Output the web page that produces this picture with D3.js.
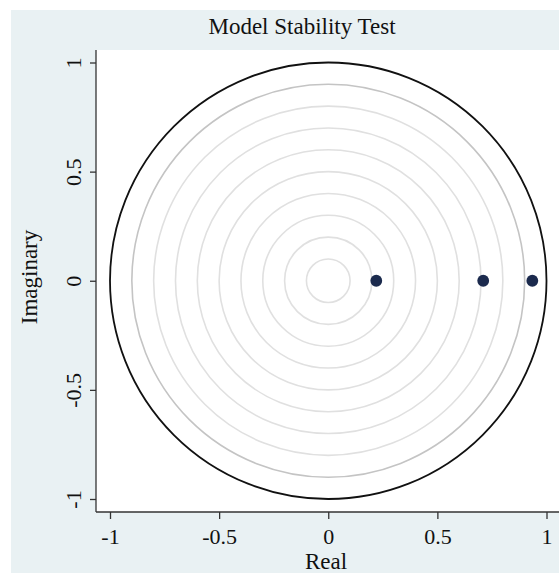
<!DOCTYPE html>
<html><head><meta charset="utf-8">
<script src="https://cdn.jsdelivr.net/npm/d3@7"></script>
<style>body{margin:0;background:#fff}svg{display:block}</style>
</head><body>
<svg id="c" width="559" height="573"></svg>
<script>
const title = "Model Stability Test";
const xLabel = "Real";
const yLabel = "Imaginary";
const rootsReal = [0.22, 0.71, 0.935];
const rootsImag = [0, 0, 0];
const gridRadii = [0.1, 0.2, 0.3, 0.4, 0.5, 0.6, 0.7, 0.8, 0.9];
const unitRadius = [1];
const tickValues = [-1, -0.5, 0, 0.5, 1];
const tickLabels = ["-1", "-0.5", "0", "0.5", "1"];

const svg = d3.select("#c");
const font = "'Liberation Serif','Times New Roman',serif";
// background
svg.append("rect").attr("x", 11).attr("y", 10).attr("width", 548).attr("height", 563).attr("fill", "#e9f1f3");
// plot area
const L = 96, T = 50, R = 559, B = 512;
svg.append("rect").attr("x", L).attr("y", T).attr("width", R - L).attr("height", B - T).attr("fill", "#fff");

const x = d3.scaleLinear().domain([-1, 1]).range([110, 546.5]);
const y = d3.scaleLinear().domain([-1, 1]).range([499, 62.5]);
const k = x(1) - x(0);

const g = svg.append("g");
g.selectAll("circle.grid").data(gridRadii).join("circle")
  .attr("class", "grid")
  .attr("cx", x(0)).attr("cy", y(0)).attr("r", d => d * k)
  .attr("fill", "none")
  .attr("stroke", d => d === 0.9 ? "#c4c4c4" : "#e0e0e0")
  .attr("stroke-width", 1.6);
g.selectAll("circle.unit").data(unitRadius).join("circle")
  .attr("class", "unit")
  .attr("cx", x(0)).attr("cy", y(0)).attr("r", d => d * k)
  .attr("fill", "none").attr("stroke", "#111").attr("stroke-width", 1.8);

g.selectAll("circle.pt").data(rootsReal).join("circle")
  .attr("class", "pt")
  .attr("cx", d => x(d)).attr("cy", (d, i) => y(rootsImag[i])).attr("r", 5.9)
  .attr("fill", "#1b2a4d");

// axes
const xAxis = d3.axisBottom(x).tickValues(tickValues).tickFormat((d, i) => tickLabels[i]).tickSize(7).tickSizeOuter(0);
const yAxis = d3.axisLeft(y).tickValues(tickValues).tickFormat((d, i) => tickLabels[i]).tickSize(6).tickSizeOuter(0);
const xa = svg.append("g").attr("transform", `translate(0,${B})`).call(xAxis);
xa.select(".domain").remove();
svg.append("line").attr("x1", L).attr("x2", R).attr("y1", B).attr("y2", B).attr("stroke", "#333").attr("stroke-width", 1.3);
xa.selectAll(".tick line").attr("stroke", "#333").attr("stroke-width", 1.3);
xa.selectAll(".tick text").attr("font-family", font).attr("font-size", 22).attr("fill", "#111")
  .attr("dy", null).attr("y", 32);

const ya = svg.append("g").attr("transform", `translate(${L},0)`).call(yAxis);
ya.select(".domain").remove();
svg.append("line").attr("x1", L).attr("x2", L).attr("y1", T).attr("y2", B).attr("stroke", "#333").attr("stroke-width", 1.3);
ya.selectAll(".tick line").attr("stroke", "#333").attr("stroke-width", 1.3);
ya.selectAll(".tick text")
  .attr("font-family", font).attr("font-size", 22).attr("fill", "#111")
  .attr("x", null).attr("dy", null)
  .attr("text-anchor", "middle")
  .attr("transform", "translate(-15,0) rotate(-90)")
  .attr("y", 0);

svg.append("text").attr("x", 302).attr("y", 34).attr("text-anchor", "middle")
  .attr("font-family", font).attr("font-size", 23).attr("fill", "#111").text(title);
svg.append("text").attr("x", 326).attr("y", 569).attr("text-anchor", "middle")
  .attr("font-family", font).attr("font-size", 23).attr("fill", "#111").text(xLabel);
svg.append("text").attr("transform", `translate(37,277) rotate(-90)`).attr("text-anchor", "middle")
  .attr("font-family", font).attr("font-size", 23).attr("fill", "#111").text(yLabel);
</script>
</body></html>
